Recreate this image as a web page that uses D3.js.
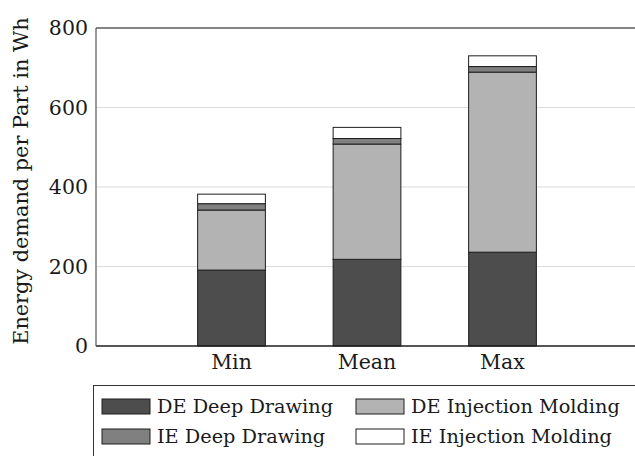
<!DOCTYPE html>
<html>
<head>
<meta charset="utf-8">
<script src="https://cdn.jsdelivr.net/npm/d3@7"></script>
<style>
  body { margin: 0; background: #fff; }
  svg { display: block; }
  text { font-family: "DejaVu Serif", serif; fill: #1a1a1a; }
</style>
</head>
<body>
<div id="chart"></div>
<script>
// Data (Wh per part)
const categories = ["Min", "Mean", "Max"];
const deDeepDrawing = [191, 218, 236];
const deInjectionMolding = [151, 290, 453];
const ieDeepDrawing = [16, 14, 14];
const ieInjectionMolding = [24, 28, 27];
const seriesNames = ["DE Deep Drawing", "DE Injection Molding", "IE Deep Drawing", "IE Injection Molding"];
const yTicks = [0, 200, 400, 600, 800];

const width = 635, height = 456;
const plot = { left: 96, right: 638, top: 28, bottom: 346 };
const fills = ["#4d4d4d", "#b3b3b3", "#808080", "#ffffff"];

const rows = categories.map((c, i) => ({
    cat: c,
    "DE Deep Drawing": deDeepDrawing[i],
    "DE Injection Molding": deInjectionMolding[i],
    "IE Deep Drawing": ieDeepDrawing[i],
    "IE Injection Molding": ieInjectionMolding[i]
}));

const svg = d3.select("#chart").append("svg")
    .attr("width", width)
    .attr("height", height);

// scales: categories sit at 1,2,3 on a 0..4 axis
const x = d3.scaleLinear().domain([0, 4]).range([plot.left, plot.right]);
const y = d3.scaleLinear().domain([0, 800]).range([plot.bottom, plot.top]);
const barW = x(0.5) - x(0);

// grid lines
svg.append("g")
    .selectAll("line")
    .data(yTicks.slice(1))
    .enter()
    .append("line")
    .attr("x1", plot.left)
    .attr("x2", plot.right)
    .attr("y1", d => y(d))
    .attr("y2", d => y(d))
    .attr("stroke", "#dcdcdc")
    .attr("stroke-width", 1.2);

// stacked bars
const stacked = d3.stack().keys(seriesNames)(rows);

svg.append("g")
    .selectAll("g")
    .data(stacked)
    .enter()
    .append("g")
    .attr("fill", (d, i) => fills[i])
    .selectAll("rect")
    .data(d => d)
    .enter()
    .append("rect")
    .attr("x", (d, i) => x(i + 1) - barW / 2)
    .attr("width", barW)
    .attr("y", d => y(d[1]))
    .attr("height", d => y(d[0]) - y(d[1]))
    .attr("stroke", "#1e1e1e")
    .attr("stroke-width", 1);

// frame
svg.append("line")
    .attr("x1", plot.left).attr("x2", plot.right)
    .attr("y1", plot.top).attr("y2", plot.top)
    .attr("stroke", "#1e1e1e").attr("stroke-width", 1.2);
svg.append("line")
    .attr("x1", plot.left).attr("x2", plot.right)
    .attr("y1", plot.bottom).attr("y2", plot.bottom)
    .attr("stroke", "#1e1e1e").attr("stroke-width", 1.4);
svg.append("line")
    .attr("x1", plot.left).attr("x2", plot.left)
    .attr("y1", plot.top).attr("y2", plot.bottom)
    .attr("stroke", "#555").attr("stroke-width", 1.2);

// y tick labels
svg.append("g")
    .selectAll("text")
    .data(yTicks)
    .enter()
    .append("text")
    .attr("x", plot.left - 8)
    .attr("y", d => y(d))
    .attr("dy", "0.36em")
    .attr("text-anchor", "end")
    .style("font-size", "20.5px")
    .text(d => d);

// x labels
svg.append("g")
    .selectAll("text")
    .data(categories)
    .enter()
    .append("text")
    .attr("x", (d, i) => x(i + 1))
    .attr("y", 369)
    .attr("text-anchor", "middle")
    .style("font-size", "20.5px")
    .text(d => d);

// y axis title
svg.append("text")
    .attr("transform", "translate(28,181) rotate(-90)")
    .attr("text-anchor", "middle")
    .style("font-size", "20.8px")
    .text("Energy demand per Part in Wh");

// legend box
svg.append("rect")
    .attr("x", 93.5)
    .attr("y", 385.5)
    .attr("width", 560)
    .attr("height", 100)
    .attr("fill", "none")
    .attr("stroke", "#333")
    .attr("stroke-width", 1);

const legend = svg.selectAll(".legend")
    .data(seriesNames)
    .enter()
    .append("g")
    .attr("class", "legend")
    .attr("transform", (d, i) => `translate(${i % 2 === 0 ? 102 : 356},${i < 2 ? 399 : 429})`);

legend.append("rect")
    .attr("width", 48)
    .attr("height", 15)
    .attr("fill", d => fills[seriesNames.indexOf(d)])
    .attr("stroke", "#1e1e1e")
    .attr("stroke-width", 1);

legend.append("text")
    .attr("x", 55)
    .attr("y", 7.5)
    .attr("dy", "0.36em")
    .style("font-size", "19.3px")
    .text(d => d);
</script>
</body>
</html>
